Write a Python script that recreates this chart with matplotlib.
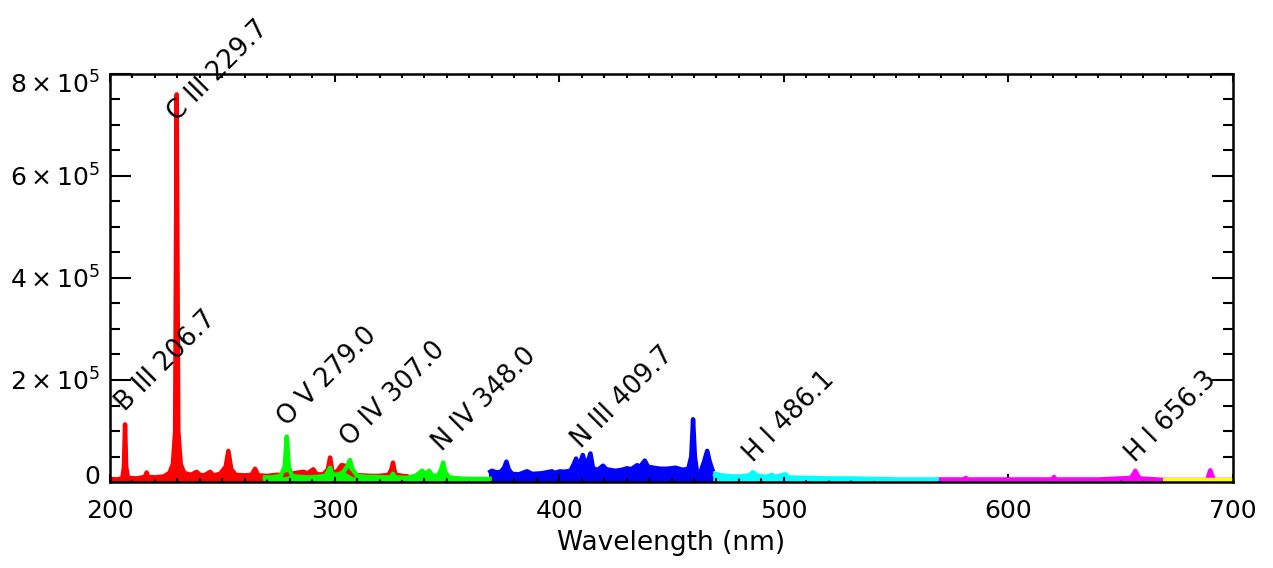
import matplotlib
matplotlib.use("Agg")
import matplotlib.pyplot as plt
from matplotlib.ticker import MultipleLocator
from matplotlib.transforms import ScaledTranslation

# ---------------- data ----------------
red_wl = [200, 203, 205.5, 206.2, 206.7, 207.2, 208, 212, 215.5, 216.3, 217, 220, 224,
          226.5, 228, 229.0, 229.7, 230.4, 231.5, 233, 236, 238.6, 240, 242, 244.6, 246,
          249, 251.5, 252.7, 254, 256, 260, 263, 264.6, 266, 270, 274, 278, 283, 286, 288,
          290.5, 292, 295, 297, 298, 299, 301, 303, 304.5, 306, 309, 312, 316, 320, 324,
          325.3, 326, 327, 330, 333]
red_val = [6e3, 5e3, 7e3, 3e4, 1.13e5, 3e4, 8e3, 7e3, 1e4, 1.86e4, 1e4, 9e3, 1.1e4,
           1.8e4, 3.5e4, 1e5, 7.6e5, 1e5, 3.5e4, 1.8e4, 1.4e4, 2e4, 1.4e4, 1.3e4, 2e4, 1.3e4,
           1.6e4, 3e4, 6.1e4, 2.5e4, 1.4e4, 1.3e4, 1.4e4, 2.6e4, 1.3e4, 1.2e4, 1.4e4, 1.4e4,
           1.8e4, 2e4, 1.7e4, 2.5e4, 1.5e4, 1.5e4, 2.5e4, 4.8e4, 2e4, 2e4, 3.3e4, 3.2e4, 2e4,
           1.3e4, 1.3e4, 1.2e4, 1.2e4, 1.4e4, 2.5e4, 3.8e4, 1.5e4, 1.2e4, 1.1e4]

green_wl = [268, 272, 276, 277.8, 278.7, 279.6, 281, 284, 288, 292, 296, 298, 299, 302,
            304, 305.5, 306.8, 308, 310, 314, 318, 322, 325, 326, 327, 332, 336, 339,
            340.5, 342, 343.5, 346, 347.5, 348.3, 349.2, 351, 355, 360, 365, 370]
green_val = [9e3, 9e3, 1.2e4, 3e4, 8.9e4, 3e4, 1.2e4, 1e4, 9e3, 1e4, 1.2e4, 2.8e4, 1.4e4,
             1.5e4, 2e4, 3e4, 4.3e4, 2.5e4, 1.2e4, 1e4, 1e4, 9e3, 9e3, 1.6e4, 9e3, 8e3,
             1.2e4, 2.2e4, 1.5e4, 2.2e4, 1.3e4, 1.2e4, 2.5e4, 3.8e4, 2e4, 9e3, 7e3, 6e3,
             6e3, 6e3]

blue_wl = [368.5, 370, 372, 374, 375.5, 376.5, 377.5, 379, 382, 385.7, 388, 392, 396.8,
           398, 400.5, 402, 405, 406.5, 407.5, 408.7, 410.5, 412, 413.9, 415, 417, 419.5,
           421, 425, 428, 430.2, 432, 434.7, 436, 438.1, 439.5, 442, 445, 448, 451.8, 455,
           457.5, 458.8, 459.6, 460.4, 461.5, 463, 464.5, 465.9, 467, 468.5]
blue_val = [1.8e4, 2.2e4, 1.9e4, 2e4, 2.8e4, 4e4, 2.5e4, 1.6e4, 1.5e4, 2.1e4, 1.6e4, 1.7e4,
            2.1e4, 1.8e4, 2.1e4, 2e4, 2.2e4, 3.5e4, 4.6e4, 3e4, 5.3e4, 3e4, 5.6e4, 2.8e4,
            2.3e4, 3.2e4, 2.5e4, 2.2e4, 2.4e4, 2.7e4, 2.5e4, 3.3e4, 3e4, 4.2e4, 3e4, 2.8e4,
            2.6e4, 2.6e4, 2.8e4, 2.4e4, 2.6e4, 5e4, 1.23e5, 5e4, 1.5e4, 2e4, 4e4, 6.1e4,
            4e4, 2e4]

cyan_wl = [468.5, 472, 477, 481, 484.5, 486.3, 488, 492, 494.9, 496, 500.8, 502, 510, 520,
           530, 540, 550, 560, 570]
cyan_val = [1.7e4, 1.3e4, 1.1e4, 1.1e4, 1.3e4, 1.9e4, 1.3e4, 1e4, 1.4e4, 1e4, 1.5e4, 9e3,
            8e3, 7e3, 7e3, 6e3, 5e3, 5e3, 5e3]

magenta_wl = [569, 580, 581, 582, 600, 619.5, 620.3, 621, 640, 654.5, 655.8, 656.5, 657.3,
              658.5, 670, 688.5, 689.3, 689.9, 690.5, 691.5, 700]
magenta_val = [5e3, 5e3, 8e3, 5e3, 5e3, 5e3, 1e4, 5e3, 5e3, 8e3, 1.6e4, 2.2e4, 1.5e4,
               7e3, 4e3, 4e3, 1.5e4, 2.3e4, 1.5e4, 4e3, 4e3]

yellow_wl = [669, 700]
yellow_val = [4e3, 4e3]

line_names = ["B III 206.7", "C III 229.7", "O V 279.0", "O IV 307.0", "N IV 348.0",
              "N III 409.7", "H I 486.1", "H I 656.3"]
line_wl = [206.7, 229.7, 279.0, 307.0, 348.0, 409.7, 486.1, 656.3]
label_y = [1.37e5, 7.06e5, 1.08e5, 6.9e4, 5.9e4, 6.5e4, 3.7e4, 3.7e4]

xticks = [200, 300, 400, 500, 600, 700]
yticks = [0, 2e5, 4e5, 6e5, 8e5]
ytick_labels = ["0", r"$2\times10^{5}$", r"$4\times10^{5}$", r"$6\times10^{5}$",
                r"$8\times10^{5}$"]

# ---------------- figure ----------------
plt.rcParams['font.family'] = ['DejaVu Sans']
plt.rcParams['mathtext.fontset'] = 'dejavusans'
FS_TICK = 18
FS_XLAB = 19
FS_LINE = 18.5

fig = plt.figure(figsize=(12.73, 5.68), dpi=100)
ax = fig.add_axes([110/1273, (568-482)/568, (1233-110)/1273, (482-74)/568])

segments = [(red_wl, red_val, '#ff0000'),
            (green_wl, green_val, '#00ff00'),
            (blue_wl, blue_val, '#0000ff'),
            (cyan_wl, cyan_val, '#00ffff'),
            (magenta_wl, magenta_val, '#ff00ff'),
            (yellow_wl, yellow_val, '#ffff00')]
for wl, val, c in segments:
    ax.fill_between(wl, 0, val, color=c, lw=0)
    ax.plot(wl, val, color=c, lw=3.2, solid_joinstyle='round', solid_capstyle='butt')

for name, wl, yv in zip(line_names, line_wl, label_y):
    ax.text(wl, yv, name, rotation=45, rotation_mode='anchor', ha='left',
            va='baseline', fontsize=FS_LINE, color='black', clip_on=False)

ax.set_xlim(200, 700)
ax.set_ylim(0, 8e5)
ax.set_xticks(xticks)
ax.set_xticklabels([str(t) for t in xticks], fontsize=FS_TICK)
ax.set_yticks(yticks)
ax.set_yticklabels(ytick_labels, fontsize=FS_TICK)
ax.xaxis.set_minor_locator(MultipleLocator(10))
ax.yaxis.set_minor_locator(MultipleLocator(5e4))

ax.tick_params(axis='both', which='both', direction='in', top=True, right=True,
               width=1.5, colors='black')
ax.tick_params(axis='x', which='major', length=6, pad=12)
ax.tick_params(axis='x', which='minor', length=3)
ax.tick_params(axis='y', which='major', length=15, pad=7)
ax.tick_params(axis='y', which='minor', length=7.5)

for sp in ax.spines.values():
    sp.set_linewidth(1.8)
    sp.set_zorder(5)

ax.set_xlabel("Wavelength (nm)", fontsize=FS_XLAB, labelpad=5)

# end labels of y axis shifted inward like the original
ylabs = ax.get_yticklabels()
ylabs[0].set_transform(ylabs[0].get_transform() + ScaledTranslation(0, 8/100, fig.dpi_scale_trans))
ylabs[-1].set_transform(ylabs[-1].get_transform() + ScaledTranslation(0, -9/100, fig.dpi_scale_trans))

fig.savefig("out.png", dpi=100)
